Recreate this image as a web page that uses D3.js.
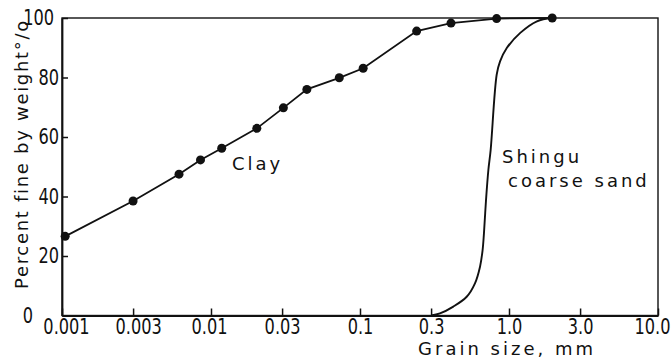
<!DOCTYPE html>
<html>
<head>
<meta charset="utf-8">
<script src="https://cdnjs.cloudflare.com/ajax/libs/d3/7.8.5/d3.min.js"></script>
<style>
    body { margin: 0; background: #fff; }
    .tick-label { font-family: "DejaVu Sans", sans-serif; font-size: 21px; fill: #111; }
    .hand-label { font-family: "DejaVu Sans", sans-serif; font-size: 18px; letter-spacing: 3px; fill: #111; }
</style>
</head>
<body>
<div id="chart"></div>
<script>
// grain size (mm) and percent finer
var clayGrain = [0.00105, 0.0030, 0.0061, 0.0085, 0.0118, 0.0203, 0.0306, 0.044, 0.0726, 0.105, 0.24, 0.408, 0.826, 1.95];
var clayPercent = [26.6, 38.5, 47.5, 52.3, 56.2, 62.9, 69.8, 76.0, 79.9, 83.1, 95.6, 98.3, 99.8, 100];

var sandGrain = [0.3, 0.344, 0.423, 0.52, 0.591, 0.639, 0.665, 0.679, 0.701, 0.727, 0.753, 0.827, 0.871, 0.966, 1.19, 1.54, 1.95];
var sandPercent = [0, 0.7, 3.0, 6.3, 10.8, 16.4, 22.0, 27.6, 38.8, 48.9, 55.6, 81, 85.4, 89.9, 95, 98.9, 100];

var xTickValues = [0.001, 0.003, 0.01, 0.03, 0.1, 0.3, 1, 3, 10];
var xTickLabels = ["0.001", "0.003", "0.01", "0.03", "0.1", "0.3", "1.0", "3.0", "10.0"];
var yTickValues = [0, 20, 40, 60, 80, 100];

var squeeze = 0.77; // narrow lettering of the tick numbers

function createChart() {
    var svgWidth = 672;
    var svgHeight = 361;

    var svg = d3.select("#chart").append("svg")
        .attr("width", svgWidth)
        .attr("height", svgHeight);

    var margin = { top: 18, right: 14, bottom: 45.5, left: 62 },
        width = svgWidth - margin.left - margin.right,
        height = svgHeight - margin.top - margin.bottom;

    var x = d3.scaleLog().domain([0.001, 10]).range([0, width]);
    var y = d3.scaleLinear().domain([0, 100]).range([height, 0]);

    var g = svg.append("g")
        .attr("transform", "translate(" + margin.left + "," + margin.top + ")");

    // frame
    g.append("rect")
        .attr("width", width)
        .attr("height", height)
        .attr("fill", "none")
        .attr("stroke", "#111")
        .attr("stroke-width", 1.4);

    var xAxis = g.append("g")
        .attr("transform", "translate(0," + height + ")")
        .call(d3.axisBottom(x)
            .tickValues(xTickValues)
            .tickFormat(function (d, i) { return xTickLabels[i]; })
            .tickSizeInner(-7)
            .tickSizeOuter(0)
            .tickPadding(4));
    xAxis.select(".domain").attr("stroke", "#111").attr("stroke-width", 1.8);
    xAxis.selectAll(".tick line").attr("stroke", "#111").attr("stroke-width", 1.5);
    xAxis.selectAll(".tick text")
        .attr("class", "tick-label")
        .attr("font-family", null).attr("font-size", null).attr("fill", null)
        .attr("transform", "scale(" + squeeze + ",1)")
        .attr("dx", function (d) {
            var shift = d === 0.001 ? 4 : d === 0.003 ? 5 : d === 0.01 ? -2 : d === 10 ? -6 : 0;
            return shift / squeeze;
        });

    var yAxis = g.append("g")
        .call(d3.axisLeft(y)
            .tickValues(yTickValues)
            .tickSizeInner(-6)
            .tickSizeOuter(0)
            .tickPadding(4));
    yAxis.select(".domain").attr("stroke", "#111").attr("stroke-width", 1.8);
    yAxis.selectAll(".tick line").attr("stroke", "#111").attr("stroke-width", 1.5);
    yAxis.selectAll(".tick text")
        .attr("class", "tick-label")
        .attr("font-family", null).attr("font-size", null).attr("fill", null)
        .attr("transform", "scale(" + squeeze + ",1)")
        .attr("x", function (d) { return (d === 0 ? -29 : (d === 100 ? -8 : -3)) / squeeze; });

    var line = d3.line()
        .x(function (d) { return x(d[0]); })
        .y(function (d) { return y(d[1]); });

    var clay = clayGrain.map(function (d, i) { return [d, clayPercent[i]]; });
    var sand = sandGrain.map(function (d, i) { return [d, sandPercent[i]]; });

    g.append("path")
        .datum(clay)
        .attr("fill", "none")
        .attr("stroke", "#111")
        .attr("stroke-width", 1.8)
        .attr("d", line);

    g.append("path")
        .datum(sand)
        .attr("fill", "none")
        .attr("stroke", "#111")
        .attr("stroke-width", 1.9)
        .attr("d", line.curve(d3.curveCatmullRom.alpha(0.5)));

    g.selectAll(".dot")
        .data(clay)
        .enter().append("circle")
        .attr("class", "dot")
        .attr("cx", function (d) { return x(d[0]); })
        .attr("cy", function (d) { return y(d[1]); })
        .attr("r", 4.5)
        .attr("fill", "#111");

    // curve labels
    svg.append("text").attr("class", "hand-label")
        .attr("x", 232).attr("y", 170).text("Clay");
    svg.append("text").attr("class", "hand-label")
        .attr("x", 502).attr("y", 163).text("Shingu");
    svg.append("text").attr("class", "hand-label")
        .attr("x", 508).attr("y", 187).text("coarse sand");

    // axis titles
    svg.append("text").attr("class", "hand-label")
        .attr("text-anchor", "end")
        .attr("x", 596).attr("y", 355)
        .text("Grain size, mm");

    svg.append("text").attr("class", "hand-label")
        .attr("text-anchor", "middle")
        .style("letter-spacing", "1.7px")
        .attr("transform", "translate(28,154) rotate(-90)")
        .text("Percent fine by weight°/o");
}

createChart();
</script>
</body>
</html>
